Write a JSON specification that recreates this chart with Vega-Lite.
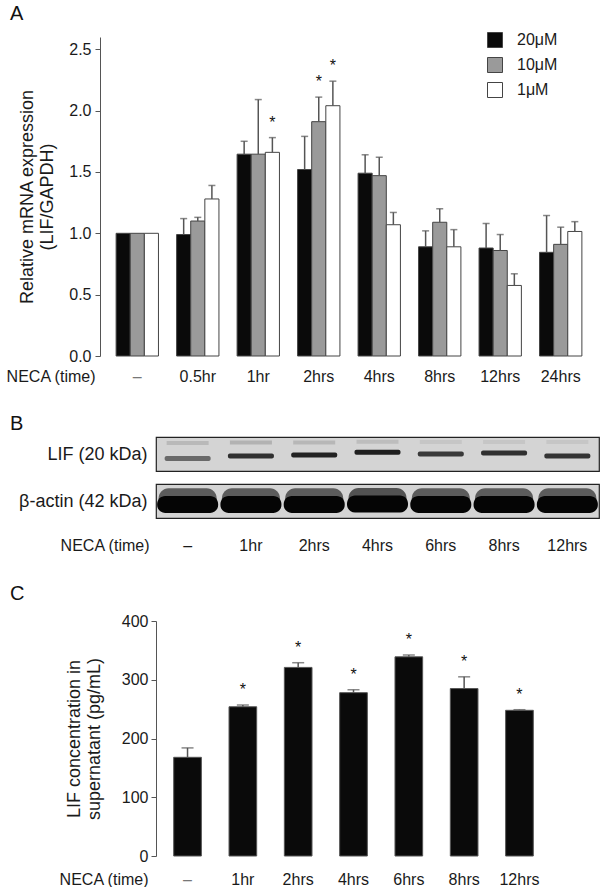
{
  "$schema": "https://vega.github.io/schema/vega-lite/v6.json",
  "padding": {"left": 5, "top": 4, "right": 0, "bottom": 0},
  "background": "white",
  "config": {
    "font": "Liberation Sans",
    "view": {"stroke": null},
    "axis": {"labelFont": "Liberation Sans", "titleFont": "Liberation Sans", "labelFontSize": 16, "titleFontSize": 16, "titleFontWeight": "normal", "labelColor": "#1a1a1a", "titleColor": "#1a1a1a", "domainColor": "#555", "tickColor": "#555", "grid": false},
    "legend": {"labelFont": "Liberation Sans"}
  },
  "spacing": 30,
  "resolve": {"scale": {"x": "independent", "y": "independent", "color": "independent", "fill": "independent"}},
  "vconcat": [
    {
      "title": {"text": "A", "anchor": "start", "frame": "group", "dx": -146, "offset": 8, "fontSize": 20, "fontWeight": "normal", "color": "#111"},
      "width": 443,
      "height": 319,
      "data": {"values": [
        {"time": "–", "conc": "20μM", "value": 1.0, "err": null, "star": false},
        {"time": "–", "conc": "10μM", "value": 1.0, "err": null, "star": false},
        {"time": "–", "conc": "1μM", "value": 1.0, "err": null, "star": false},
        {"time": "0.5hr", "conc": "20μM", "value": 0.99, "err": 1.12, "star": false},
        {"time": "0.5hr", "conc": "10μM", "value": 1.10, "err": 1.13, "star": false},
        {"time": "0.5hr", "conc": "1μM", "value": 1.28, "err": 1.39, "star": false},
        {"time": "1hr", "conc": "20μM", "value": 1.645, "err": 1.75, "star": false},
        {"time": "1hr", "conc": "10μM", "value": 1.645, "err": 2.09, "star": false},
        {"time": "1hr", "conc": "1μM", "value": 1.66, "err": 1.78, "star": true},
        {"time": "2hrs", "conc": "20μM", "value": 1.52, "err": 1.79, "star": false},
        {"time": "2hrs", "conc": "10μM", "value": 1.91, "err": 2.11, "star": true},
        {"time": "2hrs", "conc": "1μM", "value": 2.04, "err": 2.24, "star": true},
        {"time": "4hrs", "conc": "20μM", "value": 1.49, "err": 1.64, "star": false},
        {"time": "4hrs", "conc": "10μM", "value": 1.47, "err": 1.62, "star": false},
        {"time": "4hrs", "conc": "1μM", "value": 1.07, "err": 1.17, "star": false},
        {"time": "8hrs", "conc": "20μM", "value": 0.89, "err": 1.02, "star": false},
        {"time": "8hrs", "conc": "10μM", "value": 1.09, "err": 1.20, "star": false},
        {"time": "8hrs", "conc": "1μM", "value": 0.89, "err": 1.03, "star": false},
        {"time": "12hrs", "conc": "20μM", "value": 0.88, "err": 1.08, "star": false},
        {"time": "12hrs", "conc": "10μM", "value": 0.86, "err": 0.99, "star": false},
        {"time": "12hrs", "conc": "1μM", "value": 0.575, "err": 0.67, "star": false},
        {"time": "24hrs", "conc": "20μM", "value": 0.845, "err": 1.145, "star": false},
        {"time": "24hrs", "conc": "10μM", "value": 0.91, "err": 1.05, "star": false},
        {"time": "24hrs", "conc": "1μM", "value": 1.015, "err": 1.095, "star": false}
      ]},
      "encoding": {
        "x": {"field": "time", "type": "nominal", "sort": ["–", "0.5hr", "1hr", "2hrs", "4hrs", "8hrs", "12hrs", "24hrs"],
          "scale": {"range": [-55, 441], "paddingInner": 0.3, "paddingOuter": 0.25, "round": false},
          "axis": {"domain": false, "ticks": false, "labelAngle": 0, "labelPadding": 12, "labelBaseline": "top",
            "labelColor": {"condition": {"test": "datum.value == '–'", "value": "#777"}, "value": "#1a1a1a"},
            "title": "NECA (time)", "titleAngle": 0, "titleAlign": "right", "titleBaseline": "top", "titleX": -61, "titleY": 12}},
        "xOffset": {"field": "conc", "type": "nominal", "sort": ["20μM", "10μM", "1μM"]}
      },
      "layer": [
        {
          "mark": {"type": "bar", "stroke": "#444", "strokeWidth": 1},
          "encoding": {
            "y": {"field": "value", "type": "quantitative", "scale": {"domain": [0, 2.5]},
              "axis": {"offset": 56, "values": [0, 0.5, 1, 1.5, 2, 2.5], "format": ".1f", "tickSize": 5, "labelPadding": 4, "titlePadding": 12, "titleFontSize": 18,
                "title": ["Relative mRNA expression", "(LIF/GAPDH)"]}},
            "fill": {"field": "conc", "type": "nominal", "sort": ["20μM", "10μM", "1μM"],
              "scale": {"domain": ["20μM", "10μM", "1μM"], "range": ["#0a0a0a", "#9a9a9a", "#ffffff"]},
              "legend": {"orient": "none", "legendX": 331, "legendY": -5, "title": null, "symbolType": "square", "symbolSize": 225,
                "symbolStrokeColor": "#444", "symbolStrokeWidth": 1, "symbolOpacity": 1, "labelFontSize": 16, "labelOffset": 14, "rowPadding": 5,
                "labelColor": "#1a1a1a", "labelExpr": "datum.label == '1μM' ? '\u2007' + datum.label : datum.label"}}
          }
        },
        {
          "transform": [{"filter": "datum.err != null"}],
          "mark": {"type": "rule", "color": "#555", "strokeWidth": 1.5},
          "encoding": {"y": {"field": "value", "type": "quantitative"}, "y2": {"field": "err"}}
        },
        {
          "transform": [{"filter": "datum.err != null"}],
          "mark": {"type": "tick", "color": "#555", "thickness": 1.5, "size": 7},
          "encoding": {"y": {"field": "err", "type": "quantitative"}}
        },
        {
          "transform": [{"filter": "datum.star"}],
          "mark": {"type": "text", "text": "*", "dy": -10, "baseline": "alphabetic", "fontSize": 16, "color": "#111"},
          "encoding": {"y": {"field": "err", "type": "quantitative"}}
        }
      ]
    },
    {
      "title": {"text": "B", "anchor": "start", "frame": "group", "dx": -146, "offset": 2, "fontSize": 20, "fontWeight": "normal", "color": "#111"},
      "spacing": 11,
      "resolve": {"scale": {"x": "independent", "y": "independent", "color": "independent"}},
      "vconcat": [
        {
          "width": 443,
          "height": 34,
          "view": {"stroke": "#222", "strokeWidth": 1.2, "fill": "#d4d4d4"},
          "data": {"values": [
            {"lane": "–", "band": "lower", "pos": 0.37, "intensity": 0.5},
            {"lane": "1hr", "band": "lower", "pos": 0.44, "intensity": 0.8},
            {"lane": "2hrs", "band": "lower", "pos": 0.47, "intensity": 0.88},
            {"lane": "4hrs", "band": "lower", "pos": 0.55, "intensity": 0.9},
            {"lane": "6hrs", "band": "lower", "pos": 0.5, "intensity": 0.75},
            {"lane": "8hrs", "band": "lower", "pos": 0.53, "intensity": 0.8},
            {"lane": "12hrs", "band": "lower", "pos": 0.44, "intensity": 0.78},
            {"lane": "–", "band": "upper", "pos": 0.82, "intensity": 0.12},
            {"lane": "1hr", "band": "upper", "pos": 0.84, "intensity": 0.15},
            {"lane": "2hrs", "band": "upper", "pos": 0.84, "intensity": 0.13},
            {"lane": "4hrs", "band": "upper", "pos": 0.86, "intensity": 0.1},
            {"lane": "6hrs", "band": "upper", "pos": 0.85, "intensity": 0.06},
            {"lane": "8hrs", "band": "upper", "pos": 0.85, "intensity": 0.06},
            {"lane": "12hrs", "band": "upper", "pos": 0.85, "intensity": 0.06}
          ]},
          "encoding": {
            "x": {"field": "lane", "type": "nominal", "sort": ["–", "1hr", "2hrs", "4hrs", "6hrs", "8hrs", "12hrs"], "scale": {"paddingInner": 0, "paddingOuter": 0}, "axis": null},
            "y": {"field": "pos", "type": "quantitative", "scale": {"domain": [0, 1]},
              "axis": {"domain": false, "ticks": false, "labels": false, "title": "LIF (20 kDa)", "titleAngle": 0, "titleAlign": "right", "titleBaseline": "middle", "titleX": -9, "titleY": 17, "titleFontSize": 18}},
            "color": {"field": "intensity", "type": "quantitative", "scale": {"domain": [0, 1], "range": ["#d4d4d4", "#0d0d0d"]}, "legend": null}
          },
          "layer": [
            {"transform": [{"filter": "datum.band == 'upper'"}], "mark": {"type": "tick", "thickness": 4, "size": 42, "opacity": 1}},
            {"transform": [{"filter": "datum.band == 'lower'"}], "mark": {"type": "tick", "thickness": 5, "size": 46, "opacity": 1, "cornerRadius": 2}}
          ]
        },
        {
          "width": 443,
          "height": 34,
          "view": {"stroke": "#222", "strokeWidth": 1.2, "fill": "#d4d4d4"},
          "data": {"values": [
            {"lane": "–", "band": "halo", "pos": 0.52, "intensity": 0.55},
            {"lane": "1hr", "band": "halo", "pos": 0.52, "intensity": 0.55},
            {"lane": "2hrs", "band": "halo", "pos": 0.52, "intensity": 0.55},
            {"lane": "4hrs", "band": "halo", "pos": 0.53, "intensity": 0.6},
            {"lane": "6hrs", "band": "halo", "pos": 0.52, "intensity": 0.55},
            {"lane": "8hrs", "band": "halo", "pos": 0.52, "intensity": 0.55},
            {"lane": "12hrs", "band": "halo", "pos": 0.52, "intensity": 0.55},
            {"lane": "–", "band": "core", "pos": 0.4, "intensity": 1},
            {"lane": "1hr", "band": "core", "pos": 0.4, "intensity": 1},
            {"lane": "2hrs", "band": "core", "pos": 0.4, "intensity": 1},
            {"lane": "4hrs", "band": "core", "pos": 0.41, "intensity": 1},
            {"lane": "6hrs", "band": "core", "pos": 0.4, "intensity": 1},
            {"lane": "8hrs", "band": "core", "pos": 0.4, "intensity": 1},
            {"lane": "12hrs", "band": "core", "pos": 0.4, "intensity": 1}
          ]},
          "encoding": {
            "x": {"field": "lane", "type": "nominal", "sort": ["–", "1hr", "2hrs", "4hrs", "6hrs", "8hrs", "12hrs"], "scale": {"paddingInner": 0, "paddingOuter": 0},
              "axis": {"domain": false, "ticks": false, "labelAngle": 0, "labelPadding": 19, "labelBaseline": "top",
                "title": "NECA (time)", "titleAngle": 0, "titleAlign": "right", "titleBaseline": "top", "titleX": -7, "titleY": 19}},
            "y": {"field": "pos", "type": "quantitative", "scale": {"domain": [0, 1]},
              "axis": {"domain": false, "ticks": false, "labels": false, "title": "β-actin (42 kDa)", "titleAngle": 0, "titleAlign": "right", "titleBaseline": "middle", "titleX": -9, "titleY": 17, "titleFontSize": 18}},
            "color": {"field": "intensity", "type": "quantitative", "scale": {"domain": [0, 1], "range": ["#d4d4d4", "#050505"]}, "legend": null}
          },
          "layer": [
            {"transform": [{"filter": "datum.band == 'halo'"}], "mark": {"type": "tick", "thickness": 24, "size": 58, "opacity": 1, "cornerRadius": 10}},
            {"transform": [{"filter": "datum.band == 'core'"}], "mark": {"type": "tick", "thickness": 17, "size": 61, "opacity": 1, "cornerRadius": 8}}
          ]
        }
      ]
    },
    {
      "title": {"text": "C", "anchor": "start", "frame": "group", "dx": -146, "offset": 9, "fontSize": 20, "fontWeight": "normal", "color": "#111"},
      "width": 395,
      "height": 235,
      "data": {"values": [
        {"time": "–", "value": 168, "err": 184, "star": false},
        {"time": "1hr", "value": 254, "err": 257, "star": true},
        {"time": "2hrs", "value": 321, "err": 329, "star": true},
        {"time": "4hrs", "value": 278, "err": 283, "star": true},
        {"time": "6hrs", "value": 339, "err": 342, "star": true},
        {"time": "8hrs", "value": 285, "err": 305, "star": true},
        {"time": "12hrs", "value": 248, "err": 249, "star": true}
      ]},
      "encoding": {
        "x": {"field": "time", "type": "nominal", "sort": ["–", "1hr", "2hrs", "4hrs", "6hrs", "8hrs", "12hrs"],
          "scale": {"paddingInner": 0.5, "paddingOuter": 0.32, "round": false},
          "axis": {"domain": false, "ticks": false, "labelAngle": 0, "labelPadding": 15, "labelBaseline": "top",
            "labelColor": {"condition": {"test": "datum.value == '–'", "value": "#777"}, "value": "#1a1a1a"},
            "title": "NECA (time)", "titleAngle": 0, "titleAlign": "right", "titleBaseline": "top", "titleX": -8, "titleY": 15}}
      },
      "layer": [
        {
          "mark": {"type": "bar", "fill": "#0a0a0a", "stroke": "#555", "strokeWidth": 1},
          "encoding": {
            "y": {"field": "value", "type": "quantitative", "scale": {"domain": [0, 400]},
              "axis": {"values": [0, 100, 200, 300, 400], "tickSize": 5, "labelPadding": 3, "titlePadding": 18, "titleFontSize": 18,
                "title": ["LIF concentration in", "supernatant (pg/mL)"]}}
          }
        },
        {
          "mark": {"type": "rule", "color": "#555", "strokeWidth": 1.5},
          "encoding": {"y": {"field": "value", "type": "quantitative"}, "y2": {"field": "err"}}
        },
        {
          "mark": {"type": "tick", "color": "#555", "thickness": 1.5, "size": 12},
          "encoding": {"y": {"field": "err", "type": "quantitative"}}
        },
        {
          "transform": [{"filter": "datum.star"}],
          "mark": {"type": "text", "text": "*", "dy": -10, "baseline": "alphabetic", "fontSize": 16, "color": "#111"},
          "encoding": {"y": {"field": "err", "type": "quantitative"}}
        }
      ]
    }
  ]
}
